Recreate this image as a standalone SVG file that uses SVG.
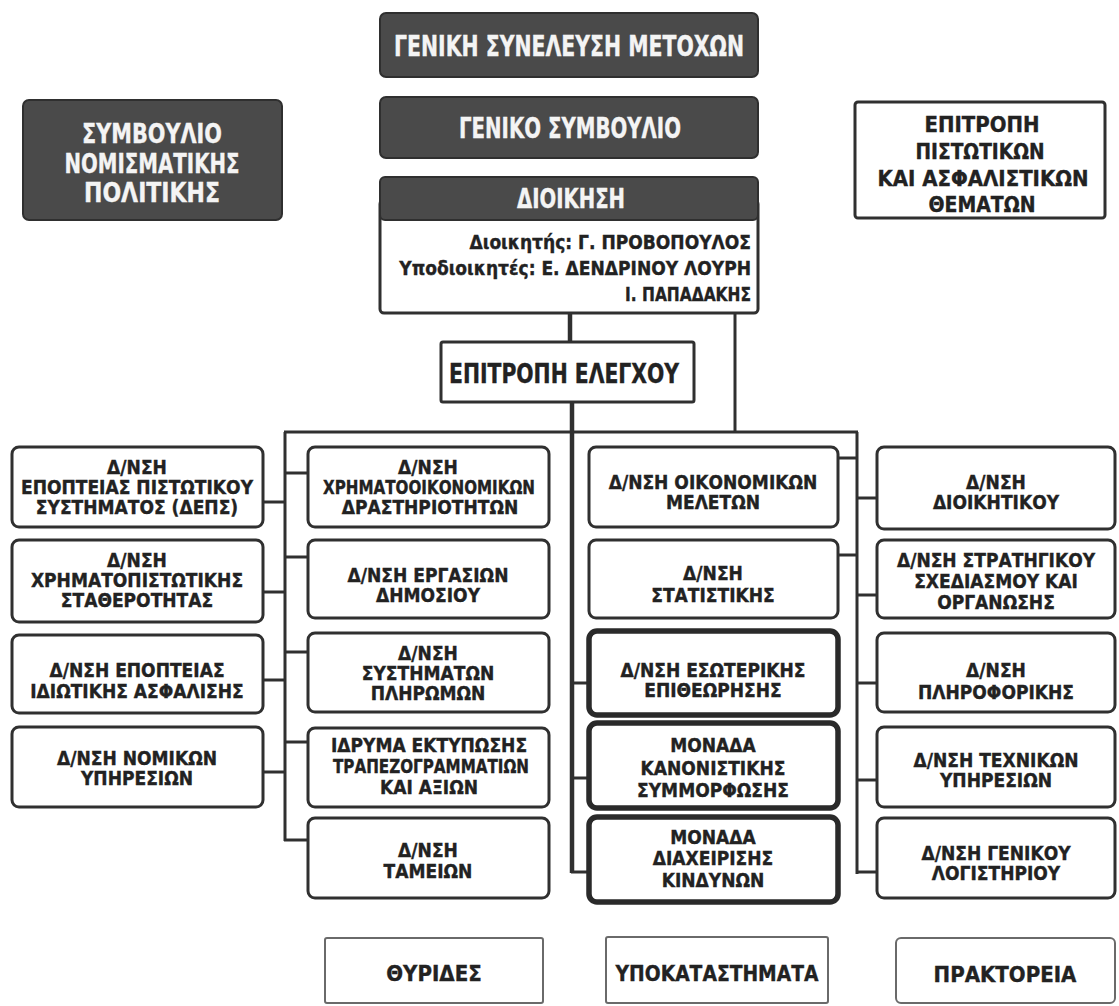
<svg xmlns="http://www.w3.org/2000/svg" width="1119" height="1006" viewBox="0 0 1119 1006">
<style>
  text { font-family: "DejaVu Sans Condensed", "Liberation Sans Narrow", "DejaVu Sans", "Liberation Sans", sans-serif; font-stretch: condensed; font-weight: bold; fill: #222222; stroke: #222222; stroke-width: 0.35; text-anchor: middle; }
  .t { font-size: 19px; }
  .w { fill: #f4f4f4; stroke: #f4f4f4; }
  .r { text-anchor: end; }
  .dark { fill: #4a4a4a; stroke: #2f2f2f; stroke-width: 2; }
  .box { fill: #ffffff; stroke: #303030; stroke-width: 3; }
  .thick { fill: #ffffff; stroke: #2a2a2a; stroke-width: 5.5; }
  .faint { fill: #ffffff; stroke: #6a6a6a; stroke-width: 2; }
  .con line { stroke: #303030; stroke-width: 3; }
  .con .heavy { stroke-width: 4.5; }
</style>
<rect width="1119" height="1006" fill="#ffffff"/>

<g class="con">
  <line class="heavy" x1="570" y1="313" x2="570" y2="342"/>
  <line x1="735" y1="313" x2="735" y2="432"/>
  <line class="heavy" x1="572" y1="402" x2="572" y2="873"/>
  <line x1="284" y1="432" x2="858" y2="432"/>
  <line x1="285" y1="432" x2="285" y2="841"/>
  <line x1="857" y1="432" x2="857" y2="874"/>
  <line x1="263" y1="502" x2="285" y2="502"/>
  <line x1="263" y1="592" x2="285" y2="592"/>
  <line x1="263" y1="680" x2="285" y2="680"/>
  <line x1="263" y1="772" x2="285" y2="772"/>
  <line x1="285" y1="473" x2="308" y2="473"/>
  <line x1="285" y1="557" x2="308" y2="557"/>
  <line x1="285" y1="652" x2="308" y2="652"/>
  <line x1="285" y1="742" x2="308" y2="742"/>
  <line x1="284" y1="840" x2="308" y2="840"/>
  <line x1="572" y1="683" x2="589" y2="683"/>
  <line x1="572" y1="778" x2="589" y2="778"/>
  <line x1="571" y1="872" x2="589" y2="872"/>
  <line x1="838" y1="458" x2="857" y2="458"/>
  <line x1="838" y1="555" x2="857" y2="555"/>
  <line x1="857" y1="498" x2="877" y2="498"/>
  <line x1="857" y1="595" x2="877" y2="595"/>
  <line x1="857" y1="683" x2="877" y2="683"/>
  <line x1="857" y1="780" x2="877" y2="780"/>
  <line x1="856" y1="872" x2="877" y2="872"/>
</g>

<g id="geniki-syneleusi">
  <rect class="dark" x="380" y="13" width="378" height="64" rx="6"/>
  <text class="w" x="569" y="56" font-size="28" textLength="350" lengthAdjust="spacingAndGlyphs">ΓΕΝΙΚΗ ΣΥΝΕΛΕΥΣΗ ΜΕΤΟΧΩΝ</text>
</g>
<g id="geniko-symvoulio">
  <rect class="dark" x="380" y="97" width="378" height="61" rx="6"/>
  <text class="w" x="570" y="138" font-size="28" textLength="222" lengthAdjust="spacingAndGlyphs">ΓΕΝΙΚΟ ΣΥΜΒΟΥΛΙΟ</text>
</g>
<g id="dioikisi">
  <rect class="box" x="380" y="200" width="378" height="113" rx="4" stroke-width="2.5"/>
  <rect class="dark" x="380" y="177" width="378" height="43" rx="5"/>
  <text class="w" x="571" y="208" font-size="26" textLength="108" lengthAdjust="spacingAndGlyphs">ΔΙΟΙΚΗΣΗ</text>
  <text class="r" x="751" y="249" font-size="19">Διοικητής: Γ. ΠΡΟΒΟΠΟΥΛΟΣ</text>
  <text class="r" x="751" y="275" font-size="19">Υποδιοικητές: Ε. ΔΕΝΔΡΙΝΟΥ ΛΟΥΡΗ</text>
  <text class="r" x="751" y="301" font-size="20" textLength="126" lengthAdjust="spacingAndGlyphs">Ι. ΠΑΠΑΔΑΚΗΣ</text>
</g>
<g id="symvoulio-nomismatikis">
  <rect class="dark" x="23" y="100" width="259" height="120" rx="6"/>
  <text class="w" x="152" y="143" font-size="27" textLength="140" lengthAdjust="spacingAndGlyphs">ΣΥΜΒΟΥΛΙΟ</text>
  <text class="w" x="152" y="173" font-size="27" textLength="175" lengthAdjust="spacingAndGlyphs">ΝΟΜΙΣΜΑΤΙΚΗΣ</text>
  <text class="w" x="152" y="202" font-size="27" textLength="136" lengthAdjust="spacingAndGlyphs">ΠΟΛΙΤΙΚΗΣ</text>
</g>
<g id="epitropi-pistotikon">
  <rect class="box" x="855" y="102" width="250" height="116" rx="3"/>
  <text x="982" y="132" font-size="22" textLength="115" lengthAdjust="spacingAndGlyphs">ΕΠΙΤΡΟΠΗ</text>
  <text x="980" y="159" font-size="22" textLength="129" lengthAdjust="spacingAndGlyphs">ΠΙΣΤΩΤΙΚΩΝ</text>
  <text x="983" y="186" font-size="22" textLength="211" lengthAdjust="spacingAndGlyphs">ΚΑΙ ΑΣΦΑΛΙΣΤΙΚΩΝ</text>
  <text x="982" y="212" font-size="22" textLength="107" lengthAdjust="spacingAndGlyphs">ΘΕΜΑΤΩΝ</text>
</g>
<g id="epitropi-elegxou">
  <rect class="box" x="441" y="342" width="253" height="60" rx="2"/>
  <text x="564" y="383" font-size="27" textLength="230" lengthAdjust="spacingAndGlyphs">ΕΠΙΤΡΟΠΗ ΕΛΕΓΧΟΥ</text>
</g>

<g id="depsi">
  <rect class="box" x="12" y="447" width="251" height="80" rx="7"/>
  <text class="t" x="137" y="474">Δ/ΝΣΗ</text>
  <text class="t" x="137" y="494">ΕΠΟΠΤΕΙΑΣ ΠΙΣΤΩΤΙΚΟΥ</text>
  <text class="t" x="137" y="514">ΣΥΣΤΗΜΑΤΟΣ (ΔΕΠΣ)</text>
</g>
<g id="xrimatopistotikis">
  <rect class="box" x="12" y="540" width="251" height="82" rx="7"/>
  <text class="t" x="137" y="567">Δ/ΝΣΗ</text>
  <text class="t" x="137" y="587">ΧΡΗΜΑΤΟΠΙΣΤΩΤΙΚΗΣ</text>
  <text class="t" x="137" y="607">ΣΤΑΘΕΡΟΤΗΤΑΣ</text>
</g>
<g id="idiotikis-asfalisis">
  <rect class="box" x="12" y="635" width="251" height="78" rx="7"/>
  <text class="t" x="137" y="677">Δ/ΝΣΗ ΕΠΟΠΤΕΙΑΣ</text>
  <text class="t" x="137" y="698">ΙΔΙΩΤΙΚΗΣ ΑΣΦΑΛΙΣΗΣ</text>
</g>
<g id="nomikon">
  <rect class="box" x="12" y="727" width="251" height="80" rx="7"/>
  <text class="t" x="137" y="765">Δ/ΝΣΗ ΝΟΜΙΚΩΝ</text>
  <text class="t" x="137" y="785">ΥΠΗΡΕΣΙΩΝ</text>
</g>

<g id="xrimatooikonomikon">
  <rect class="box" x="308" y="447" width="241" height="80" rx="7"/>
  <text class="t" x="428" y="474">Δ/ΝΣΗ</text>
  <text class="t" x="429" y="494" textLength="212" lengthAdjust="spacingAndGlyphs">ΧΡΗΜΑΤΟΟΙΚΟΝΟΜΙΚΩΝ</text>
  <text class="t" x="430" y="514">ΔΡΑΣΤΗΡΙΟΤΗΤΩΝ</text>
</g>
<g id="ergasion-dimosiou">
  <rect class="box" x="308" y="540" width="241" height="78" rx="7"/>
  <text class="t" x="428" y="582">Δ/ΝΣΗ ΕΡΓΑΣΙΩΝ</text>
  <text class="t" x="428" y="602">ΔΗΜΟΣΙΟΥ</text>
</g>
<g id="systimaton-pliromon">
  <rect class="box" x="308" y="633" width="241" height="79" rx="7"/>
  <text class="t" x="428" y="660">Δ/ΝΣΗ</text>
  <text class="t" x="428" y="680">ΣΥΣΤΗΜΑΤΩΝ</text>
  <text class="t" x="428" y="700">ΠΛΗΡΩΜΩΝ</text>
</g>
<g id="idryma-ektyposis">
  <rect class="box" x="308" y="728" width="241" height="79" rx="7"/>
  <text class="t" x="429" y="752">ΙΔΡΥΜΑ ΕΚΤΥΠΩΣΗΣ</text>
  <text class="t" x="431" y="773" textLength="196" lengthAdjust="spacingAndGlyphs">ΤΡΑΠΕΖΟΓΡΑΜΜΑΤΙΩΝ</text>
  <text class="t" x="429" y="794">ΚΑΙ ΑΞΙΩΝ</text>
</g>
<g id="tameion">
  <rect class="box" x="308" y="818" width="241" height="80" rx="7"/>
  <text class="t" x="428" y="857">Δ/ΝΣΗ</text>
  <text class="t" x="428" y="878">ΤΑΜΕΙΩΝ</text>
</g>

<g id="oikonomikon-meleton">
  <rect class="box" x="589" y="447" width="249" height="80" rx="7"/>
  <text class="t" x="713" y="489">Δ/ΝΣΗ ΟΙΚΟΝΟΜΙΚΩΝ</text>
  <text class="t" x="713" y="509">ΜΕΛΕΤΩΝ</text>
</g>
<g id="statistikis">
  <rect class="box" x="589" y="540" width="249" height="78" rx="7"/>
  <text class="t" x="713" y="580">Δ/ΝΣΗ</text>
  <text class="t" x="713" y="602">ΣΤΑΤΙΣΤΙΚΗΣ</text>
</g>
<g id="esoterikis-epitheorisis">
  <rect class="thick" x="589" y="631" width="249" height="84" rx="8"/>
  <text class="t" x="713" y="677">Δ/ΝΣΗ ΕΣΩΤΕΡΙΚΗΣ</text>
  <text class="t" x="713" y="697">ΕΠΙΘΕΩΡΗΣΗΣ</text>
</g>
<g id="kanonistikis-symmorfosis">
  <rect class="thick" x="589" y="723" width="249" height="85" rx="8"/>
  <text class="t" x="713" y="752">ΜΟΝΑΔΑ</text>
  <text class="t" x="713" y="775">ΚΑΝΟΝΙΣΤΙΚΗΣ</text>
  <text class="t" x="713" y="797">ΣΥΜΜΟΡΦΩΣΗΣ</text>
</g>
<g id="diaxeirisis-kindynon">
  <rect class="thick" x="589" y="817" width="249" height="85" rx="8"/>
  <text class="t" x="713" y="844">ΜΟΝΑΔΑ</text>
  <text class="t" x="713" y="865">ΔΙΑΧΕΙΡΙΣΗΣ</text>
  <text class="t" x="713" y="887">ΚΙΝΔΥΝΩΝ</text>
</g>

<g id="dioikitikou">
  <rect class="box" x="877" y="447" width="238" height="82" rx="7"/>
  <text class="t" x="996" y="489">Δ/ΝΣΗ</text>
  <text class="t" x="996" y="509">ΔΙΟΙΚΗΤΙΚΟΥ</text>
</g>
<g id="stratigikou-sxediasmou">
  <rect class="box" x="877" y="540" width="238" height="78" rx="7"/>
  <text class="t" x="996" y="567">Δ/ΝΣΗ ΣΤΡΑΤΗΓΙΚΟΥ</text>
  <text class="t" x="996" y="588">ΣΧΕΔΙΑΣΜΟΥ ΚΑΙ</text>
  <text class="t" x="996" y="609">ΟΡΓΑΝΩΣΗΣ</text>
</g>
<g id="pliroforikis">
  <rect class="box" x="877" y="633" width="238" height="79" rx="7"/>
  <text class="t" x="996" y="677">Δ/ΝΣΗ</text>
  <text class="t" x="996" y="699">ΠΛΗΡΟΦΟΡΙΚΗΣ</text>
</g>
<g id="texnikon-ypiresion">
  <rect class="box" x="877" y="727" width="238" height="80" rx="7"/>
  <text class="t" x="996" y="767">Δ/ΝΣΗ ΤΕΧΝΙΚΩΝ</text>
  <text class="t" x="996" y="787">ΥΠΗΡΕΣΙΩΝ</text>
</g>
<g id="genikou-logistiriou">
  <rect class="box" x="877" y="818" width="238" height="80" rx="7"/>
  <text class="t" x="996" y="860">Δ/ΝΣΗ ΓΕΝΙΚΟΥ</text>
  <text class="t" x="996" y="880">ΛΟΓΙΣΤΗΡΙΟΥ</text>
</g>

<g id="thyrides">
  <rect class="faint" x="325" y="938" width="218" height="65" rx="2"/>
  <text x="434" y="981" font-size="22">ΘΥΡΙΔΕΣ</text>
</g>
<g id="ypokatastimata">
  <rect class="faint" x="606" y="937" width="222" height="66" rx="2"/>
  <text x="717" y="981" font-size="22" textLength="203" lengthAdjust="spacingAndGlyphs">ΥΠΟΚΑΤΑΣΤΗΜΑΤΑ</text>
</g>
<g id="praktoreia">
  <rect class="faint" x="896" y="938" width="219" height="65" rx="5"/>
  <text x="1005" y="982" font-size="22">ΠΡΑΚΤΟΡΕΙΑ</text>
</g>
</svg>
